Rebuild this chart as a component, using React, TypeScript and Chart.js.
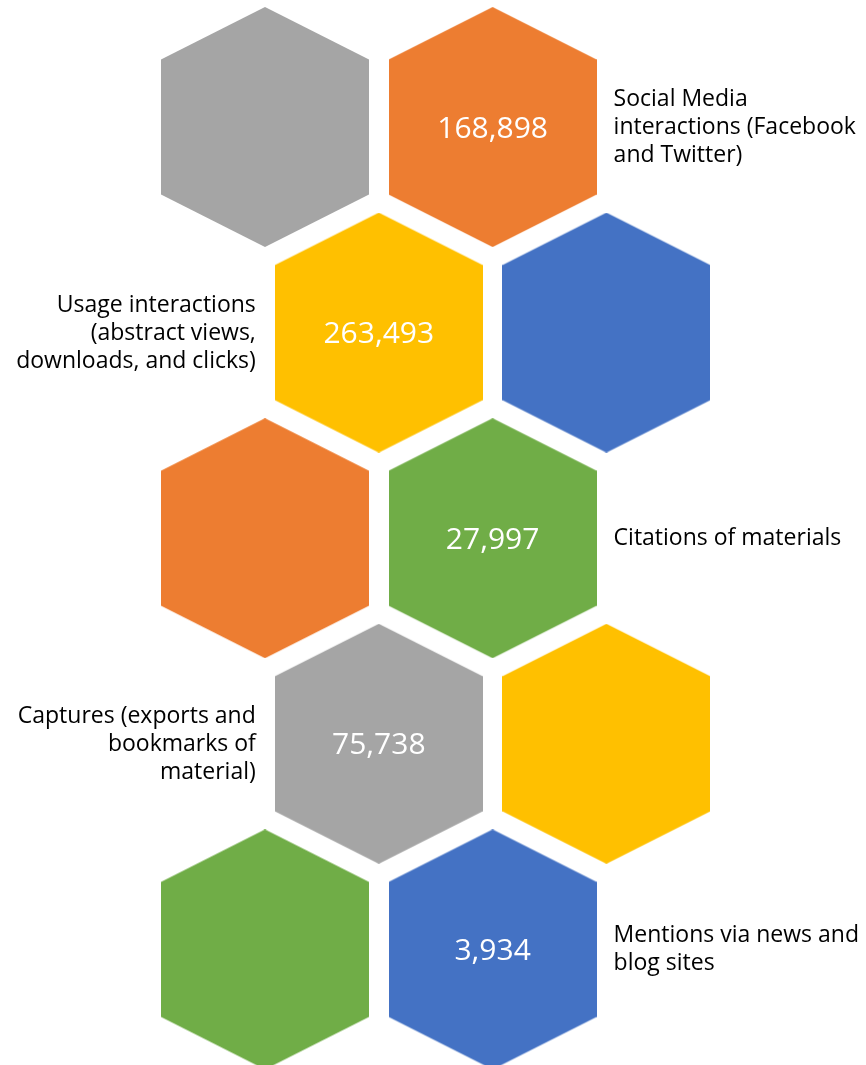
import React, { useEffect, useRef } from "react";
import { Chart, registerables } from "chart.js";

Chart.register(...registerables);

// Honeycomb cells: column (half-step offset) and row index
const hexCols = [0, 2, 1, 3, 0, 2, 1, 3, 0, 2];
const hexRows = [0, 0, 1, 1, 2, 2, 3, 3, 4, 4];
const hexColors = [
  "#A5A5A5", "#ED7D31",
  "#FFC000", "#4472C4",
  "#ED7D31", "#70AD47",
  "#A5A5A5", "#FFC000",
  "#70AD47", "#4472C4",
];
const hexValues: (number | null)[] = [
  null, 168898,
  263493, null,
  null, 27997,
  75738, null,
  null, 3934,
];
const hexLabels: string[][] = [
  [], ["Social Media", "interactions (Facebook", "and Twitter)"],
  ["Usage interactions", "(abstract views,", "downloads, and clicks)"], [],
  [], ["Citations of materials"],
  ["Captures (exports and", "bookmarks of", "material)"], [],
  [], ["Mentions via news and", "blog sites"],
];
const labelSides = ["", "right", "left", "", "", "right", "left", "", "", "right"];

const HEX_W = 208;
const HEX_H = 240;
const HEX_SIDE_Y = 52.5;

function makeHex(color: string): HTMLCanvasElement {
  const c = document.createElement("canvas");
  c.width = HEX_W;
  c.height = HEX_H;
  const g = c.getContext("2d")!;
  g.fillStyle = color;
  g.beginPath();
  g.moveTo(HEX_W / 2, 0);
  g.lineTo(HEX_W, HEX_SIDE_Y);
  g.lineTo(HEX_W, HEX_H - HEX_SIDE_Y);
  g.lineTo(HEX_W / 2, HEX_H);
  g.lineTo(0, HEX_H - HEX_SIDE_Y);
  g.lineTo(0, HEX_SIDE_Y);
  g.closePath();
  g.fill();
  return c;
}

const FONT = "'Open Sans', 'Noto Sans', sans-serif";

const hexTextPlugin = {
  id: "hexText",
  afterDatasetsDraw(chart: any) {
    const ctx = chart.ctx as CanvasRenderingContext2D;
    const meta = chart.getDatasetMeta(0);
    ctx.save();
    meta.data.forEach((pt: any, i: number) => {
      const x = pt.x;
      const y = pt.y;
      const v = hexValues[i];
      if (v !== null && v !== undefined) {
        ctx.fillStyle = "#FFFFFF";
        ctx.font = `30px ${FONT}`;
        ctx.textAlign = "center";
        ctx.textBaseline = "alphabetic";
        ctx.fillText(v.toLocaleString("en-US"), x, y + 10.5);
      }
      const lines = hexLabels[i];
      if (lines && lines.length) {
        const side = labelSides[i];
        ctx.fillStyle = "#000000";
        ctx.font = `23px ${FONT}`;
        ctx.textBaseline = "alphabetic";
        let tx: number;
        if (side === "right") {
          ctx.textAlign = "left";
          tx = x + HEX_W / 2 + 17;
        } else {
          ctx.textAlign = "right";
          tx = x - HEX_W / 2 - 19;
        }
        const lh = 28;
        const top = y - (lh * lines.length) / 2;
        lines.forEach((ln, k) => {
          ctx.fillText(ln, tx, top + 21 + k * lh);
        });
      }
    });
    ctx.restore();
  },
};

export default function App() {
  const ref = useRef<HTMLCanvasElement | null>(null);

  useEffect(() => {
    if (!ref.current) return;
    const points = hexCols.map((c, i) => ({ x: c, y: hexRows[i] }));
    const styles = hexColors.map((c) => makeHex(c));
    const chart = new Chart(ref.current, {
      type: "scatter",
      data: {
        datasets: [
          {
            data: points,
            pointStyle: styles as any,
            pointRadius: 10,
            pointHoverRadius: 10,
            clip: false as any,
          },
        ],
      },
      options: {
        animation: false,
        responsive: false,
        events: [],
        layout: { padding: 0, autoPadding: false },
        plugins: {
          legend: { display: false },
          tooltip: { enabled: false },
        },
        scales: {
          x: { type: "linear", display: false, min: -2.3286, max: 5.2812 },
          y: { type: "linear", display: false, reverse: true, min: -0.6177, max: 4.5622 },
        },
      },
      plugins: [hexTextPlugin],
    });
    return () => chart.destroy();
  }, []);

  return (
    <div style={{ position: "absolute", left: 0, top: 0, width: 866, height: 1065 }}>
      <canvas ref={ref} width={866} height={1065} style={{ display: "block" }} />
    </div>
  );
}
